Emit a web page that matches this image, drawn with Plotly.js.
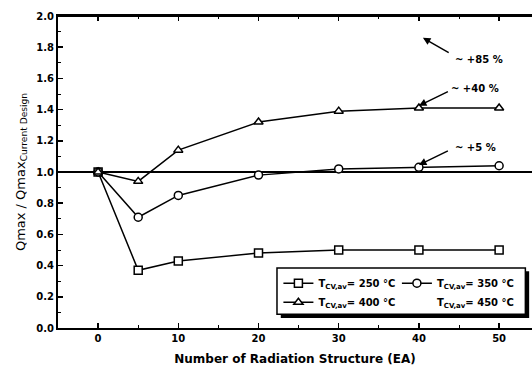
<!DOCTYPE html>
<html>
<head>
<meta charset="utf-8">
<script src="https://cdn.plot.ly/plotly-3.0.1.min.js"></script>
<style>html,body{margin:0;padding:0;background:#fff;}#chart{width:532px;height:375px;}</style>
</head>
<body>
<div id="chart"></div>
<script>
const xValues = [0, 5, 10, 20, 30, 40, 50];
const q250 = [1.0, 0.37, 0.43, 0.48, 0.50, 0.50, 0.50];
const q350 = [1.0, 0.71, 0.85, 0.98, 1.02, 1.03, 1.04];
const q400 = [1.0, 0.94, 1.14, 1.32, 1.39, 1.41, 1.41];
const q450 = [null];
const seriesNames = ['T<sub>CV,av</sub>= 250 °C', 'T<sub>CV,av</sub>= 350 °C', 'T<sub>CV,av</sub>= 400 °C', 'T<sub>CV,av</sub>= 450 °C'];
const xTickVals = [0, 10, 20, 30, 40, 50];
const yTickVals = [0, 0.2, 0.4, 0.6, 0.8, 1.0, 1.2, 1.4, 1.6, 1.8, 2.0];
const yTickText = ['0.0', '0.2', '0.4', '0.6', '0.8', '1.0', '1.2', '1.4', '1.6', '1.8', '2.0'];

const FONT = 'DejaVu Sans, Verdana, sans-serif';
function mk(sym, y, name, leg, xa) {
  return {
    x: xValues, y: y, name: name, type: 'scatter', mode: 'lines+markers', legend: leg, xaxis: xa,
    line: {color: '#000', width: 1.5},
    marker: {symbol: sym, size: 8, color: '#fff', line: {color: '#000', width: 1.5}},
    cliponaxis: false
  };
}
const traces = [
  mk('square', q250, seriesNames[0], 'legend', 'x'),
  mk('circle', q350, seriesNames[1], 'legend2', 'x'),
  mk('triangle-up', q400, seriesNames[2], 'legend', 'x2'),
  {x: xValues.slice(0, 1), y: q450, name: seriesNames[3], type: 'scatter', mode: 'lines', legend: 'legend2',
   line: {color: 'rgba(0,0,0,0)', width: 1}}
];

const legFont = {family: FONT, size: 10, weight: 'bold'};
const xRange = [-5, 54.1];
const layout = {
  width: 532, height: 375,
  margin: {l: 58, r: 0, t: 16, b: 47},
  paper_bgcolor: '#fff', plot_bgcolor: '#fff',
  font: {family: FONT, color: '#000', size: 10, weight: 'bold'},
  showlegend: true,
  xaxis: {
    range: xRange, tickvals: xTickVals, ticks: 'inside', ticklen: 5, tickwidth: 1.5, tickcolor: '#000',
    minor: {dtick: 5, ticks: 'inside', ticklen: 3, tickwidth: 1, tickcolor: '#000'},
    showline: true, linecolor: '#000', linewidth: 2,
    showgrid: false, zeroline: false,
    tickfont: {family: FONT, size: 10, weight: 'bold'},
    title: {text: 'Number of Radiation Structure (EA)', font: {family: FONT, size: 12, weight: 'bold'}, standoff: 12}
  },
  xaxis2: {
    overlaying: 'x', side: 'top', anchor: 'y', range: xRange, tickvals: xTickVals, ticks: 'inside', ticklen: 5, tickwidth: 1.5, tickcolor: '#000',
    minor: {dtick: 5, ticks: 'inside', ticklen: 3, tickwidth: 1, tickcolor: '#000'},
    showline: true, linecolor: '#000', linewidth: 2, showticklabels: false,
    showgrid: false, zeroline: false
  },
  yaxis: {
    range: [0, 2], tickvals: yTickVals, ticktext: yTickText, ticks: 'inside', ticklen: 5, tickwidth: 1.5, tickcolor: '#000',
    minor: {dtick: 0.1, ticks: 'inside', ticklen: 3, tickwidth: 1, tickcolor: '#000'},
    showline: true, linecolor: '#000', linewidth: 2,
    showgrid: false, zeroline: false,
    tickfont: {family: FONT, size: 10, weight: 'bold'},
    title: {text: 'Qmax / Qmax<sub>Current Design</sub>', font: {family: FONT, size: 13, weight: 'normal'}, standoff: 8}
  },
  legend: {
    orientation: 'v', x: 0.465, xanchor: 'left', y: 0.19, yanchor: 'top',
    bgcolor: 'rgba(0,0,0,0)', borderwidth: 0, tracegroupgap: 0, itemwidth: 30,
    font: legFont
  },
  legend2: {
    orientation: 'v', x: 0.715, xanchor: 'left', y: 0.19, yanchor: 'top',
    bgcolor: 'rgba(0,0,0,0)', borderwidth: 0, tracegroupgap: 0, itemwidth: 30,
    font: legFont
  },
  shapes: [
    {type: 'line', xref: 'paper', yref: 'y', x0: 0, x1: 1, y0: 1, y1: 1, line: {color: '#000', width: 2}, layer: 'below'},
    {type: 'line', xref: 'paper', yref: 'paper', x0: 0, x1: 1, y0: 1, y1: 1, line: {color: '#000', width: 2}, layer: 'above'},
    {type: 'rect', xref: 'paper', yref: 'paper', x0: 0.470, x1: 0.994, y0: 0.032, y1: 0.182, fillcolor: '#000', line: {width: 0}, layer: 'above'},
    {type: 'rect', xref: 'paper', yref: 'paper', x0: 0.462, x1: 0.986, y0: 0.044, y1: 0.192, fillcolor: '#fff', line: {color: '#000', width: 1.5}, layer: 'above'}
  ],
  annotations: [
    {x: 40.5, y: 1.86, ax: 43.9, ay: 1.76, xref: 'x', yref: 'y', axref: 'x', ayref: 'y', text: '', showarrow: true, arrowhead: 2, arrowsize: 1, arrowwidth: 1.5, arrowcolor: '#000'},
    {x: 44.2, y: 1.72, xref: 'x', yref: 'y', text: '~ +85 %', showarrow: false, xanchor: 'left', font: {family: FONT, size: 10, weight: 'bold'}},
    {x: 40, y: 1.425, ax: 43.8, ay: 1.52, xref: 'x', yref: 'y', axref: 'x', ayref: 'y', text: '', showarrow: true, arrowhead: 2, arrowsize: 1, arrowwidth: 1.5, arrowcolor: '#000'},
    {x: 43.8, y: 1.535, xref: 'x', yref: 'y', text: '~ +40 %', showarrow: false, xanchor: 'left', font: {family: FONT, size: 10, weight: 'bold'}},
    {x: 40, y: 1.045, ax: 43.8, ay: 1.14, xref: 'x', yref: 'y', axref: 'x', ayref: 'y', text: '', showarrow: true, arrowhead: 2, arrowsize: 1, arrowwidth: 1.5, arrowcolor: '#000'},
    {x: 44.2, y: 1.155, xref: 'x', yref: 'y', text: '~ +5 %', showarrow: false, xanchor: 'left', font: {family: FONT, size: 10, weight: 'bold'}}
  ]
};
Plotly.newPlot('chart', traces, layout, {displayModeBar: false, staticPlot: true});
</script>
</body>
</html>
